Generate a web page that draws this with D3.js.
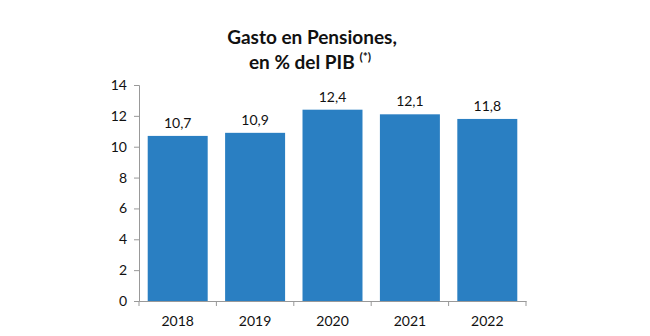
<!DOCTYPE html>
<html><head><meta charset="utf-8">
<script src="https://cdn.jsdelivr.net/npm/d3@7"></script>
<style>body{margin:0;background:#fff;} text{font-family:Lato,"Open Sans",sans-serif;}</style>
</head><body>
<svg id="c" width="650" height="336"></svg>
<script>
const years = ["2018","2019","2020","2021","2022"];
const values = [10.7, 10.9, 12.4, 12.1, 11.8];
const yTicks = [0,2,4,6,8,10,12,14];

const svg = d3.select("#c");
const x = d3.scaleBand().domain(years).range([139, 526]).paddingInner(0.225).paddingOuter(0.1125);
const y = d3.scaleLinear().domain([0,14]).range([301, 85]);

// bars
svg.selectAll("rect.bar").data(values).enter().append("rect")
  .attr("x",(d,i)=>x(years[i])).attr("y",d=>y(d))
  .attr("width",x.bandwidth()).attr("height",d=>y(0)-y(d))
  .attr("fill","#2a7fc2");

// value labels
svg.selectAll("text.val").data(values).enter().append("text")
  .attr("x",(d,i)=>x(years[i])+x.bandwidth()/2).attr("y",d=>y(d)-8)
  .attr("text-anchor","middle").attr("font-size",14).attr("fill","#111")
  .text(d=>d.toFixed(1).replace(".",","));

// y axis
const ya = svg.append("g").attr("transform","translate(139,0)")
  .call(d3.axisLeft(y).tickValues(yTicks).tickSize(5).tickPadding(7).tickFormat(d=>d));
ya.select(".domain").attr("stroke","#999");
ya.selectAll(".tick line").attr("stroke","#999");
ya.selectAll(".tick text").attr("font-size",14).attr("fill","#111").attr("font-family","Lato,'Open Sans',sans-serif");

// x axis
const xa = svg.append("g").attr("transform","translate(0,301)")
  .call(d3.axisBottom(x).tickSize(0).tickPadding(15));
xa.select(".domain").attr("stroke","#999");
xa.selectAll(".tick text").attr("font-size",14).attr("fill","#111").attr("font-family","Lato,'Open Sans',sans-serif");
// category boundary ticks
const bounds = years.map(d=>x(d)-x.step()*x.paddingOuter()).concat([526]);
svg.selectAll("line.bt").data(bounds).enter().append("line")
  .attr("x1",d=>d).attr("x2",d=>d).attr("y1",301).attr("y2",306).attr("stroke","#999");

// title
svg.append("text").attr("x",312).attr("y",44).attr("text-anchor","middle")
  .attr("font-size",19).attr("font-weight","bold").attr("fill","#111").text("Gasto en Pensiones,");
const t2 = svg.append("text").attr("x",310).attr("y",69).attr("text-anchor","middle")
  .attr("font-size",19).attr("font-weight","bold").attr("fill","#111");
t2.append("tspan").text("en % del PIB ");
t2.append("tspan").attr("font-size",12).attr("dy",-8).text("(*)");
</script>
</body></html>
